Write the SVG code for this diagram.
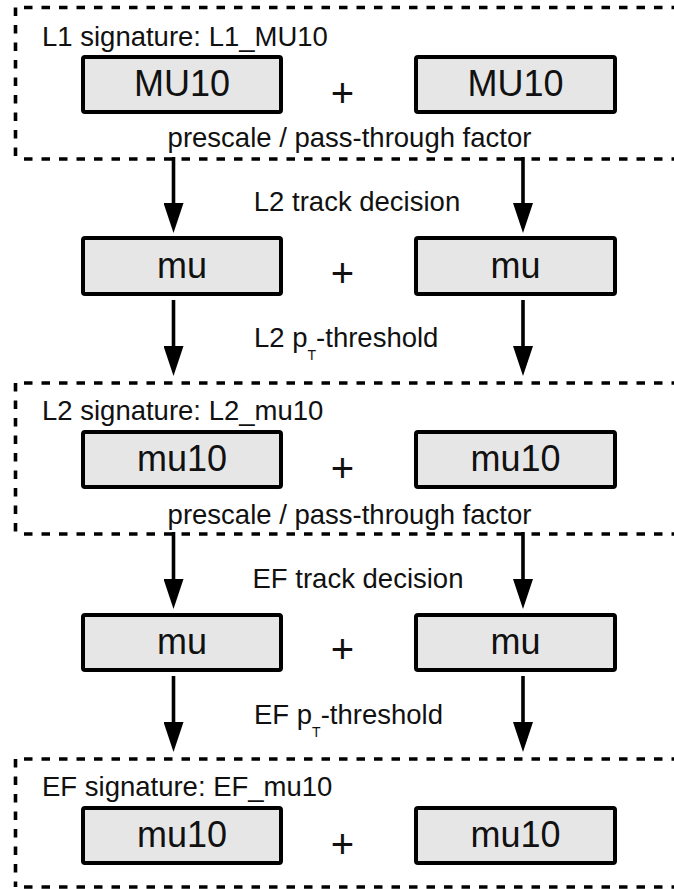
<svg xmlns="http://www.w3.org/2000/svg" width="674" height="889" viewBox="0 0 674 889">
  <style>
    .frame { fill: none; stroke: #000; stroke-width: 3.6; stroke-dasharray: 8.5 9; }
    .box { fill: #e6e6e6; stroke: #000; stroke-width: 4; }
    .lbl { font-family: "Liberation Sans", Arial, sans-serif; font-size: 27.5px; fill: #111; }
    .big { font-family: "Liberation Sans", Arial, sans-serif; font-size: 36px; fill: #111; text-anchor: middle; }
    .plus { font-family: "Liberation Sans", Arial, sans-serif; font-size: 40px; fill: #111; text-anchor: middle; }
    .mid { text-anchor: middle; }
    .arrow { stroke: #000; stroke-width: 3.6; fill: none; marker-end: url(#head); }
  </style>
  <defs>
    <marker id="head" markerUnits="userSpaceOnUse" markerWidth="30" markerHeight="20" refX="2" refY="10" orient="auto">
      <path d="M0,0 L30,10 L0,20 z" fill="#000"/>
    </marker>
  </defs>
  <rect width="674" height="889" fill="#fff"/>

  <!-- Level 1 signature container -->
  <g id="l1-signature">
    <path class="frame" d="M24,7.5 H690 M15.5,7.5 V159 M24,159 H690"/>
    <text class="lbl" x="42" y="45.5">L1 signature: L1_MU10</text>
    <g id="l1-mu10-a">
      <rect class="box" x="83" y="57" width="198" height="55" rx="2"/>
      <text class="big" x="182" y="96">MU10</text>
    </g>
    <text class="plus" x="342.5" y="107">+</text>
    <g id="l1-mu10-b">
      <rect class="box" x="416" y="57" width="199" height="55" rx="2"/>
      <text class="big" x="515.5" y="96">MU10</text>
    </g>
    <text class="lbl mid" x="349.5" y="147">prescale / pass-through factor</text>
  </g>

  <!-- L2 track decision step -->
  <text class="lbl mid" x="357" y="211">L2 track decision</text>
  <g id="l2-mu-row">
    <g id="l2-mu-a">
      <rect class="box" x="83" y="238" width="198" height="56" rx="2"/>
      <text class="big" x="182" y="278">mu</text>
    </g>
    <text class="plus" x="342.5" y="287">+</text>
    <g id="l2-mu-b">
      <rect class="box" x="416" y="238" width="199" height="56" rx="2"/>
      <text class="big" x="515.5" y="278">mu</text>
    </g>
  </g>
  <text class="lbl" x="254" y="347">L2 p<tspan font-size="14" dy="13">T</tspan><tspan dy="-13">-threshold</tspan></text>

  <!-- Level 2 signature container -->
  <g id="l2-signature">
    <path class="frame" d="M24,383 H690 M15.5,383 V534 M24,534 H690"/>
    <text class="lbl" x="42" y="419.5">L2 signature: L2_mu10</text>
    <g id="l2-mu10-a">
      <rect class="box" x="83" y="432" width="198" height="55" rx="2"/>
      <text class="big" x="182" y="471">mu10</text>
    </g>
    <text class="plus" x="342.5" y="482">+</text>
    <g id="l2-mu10-b">
      <rect class="box" x="416" y="432" width="199" height="55" rx="2"/>
      <text class="big" x="515.5" y="471">mu10</text>
    </g>
    <text class="lbl mid" x="349.5" y="523.5">prescale / pass-through factor</text>
  </g>

  <!-- EF track decision step -->
  <text class="lbl mid" x="358" y="588">EF track decision</text>
  <g id="ef-mu-row">
    <g id="ef-mu-a">
      <rect class="box" x="83" y="615" width="198" height="55" rx="2"/>
      <text class="big" x="182" y="654">mu</text>
    </g>
    <text class="plus" x="342.5" y="663">+</text>
    <g id="ef-mu-b">
      <rect class="box" x="416" y="615" width="199" height="55" rx="2"/>
      <text class="big" x="515.5" y="654">mu</text>
    </g>
  </g>
  <text class="lbl" x="254" y="724">EF p<tspan font-size="14" dy="13">T</tspan><tspan dy="-13">-threshold</tspan></text>

  <!-- Event filter signature container -->
  <g id="ef-signature">
    <path class="frame" d="M24,759 H690 M15.5,759 V887 M24,887 H690"/>
    <text class="lbl" x="42" y="796">EF signature: EF_mu10</text>
    <g id="ef-mu10-a">
      <rect class="box" x="83" y="808" width="198" height="55" rx="2"/>
      <text class="big" x="182" y="847">mu10</text>
    </g>
    <text class="plus" x="342.5" y="858">+</text>
    <g id="ef-mu10-b">
      <rect class="box" x="416" y="808" width="199" height="55" rx="2"/>
      <text class="big" x="515.5" y="847">mu10</text>
    </g>
  </g>

  <!-- connectors -->
  <g id="connectors">
    <path class="arrow" d="M173.5,157 V205"/>
    <path class="arrow" d="M523,157 V205"/>
    <path class="arrow" d="M173.5,300 V348"/>
    <path class="arrow" d="M523,300 V348"/>
    <path class="arrow" d="M173.5,532 V581"/>
    <path class="arrow" d="M523,532 V581"/>
    <path class="arrow" d="M173.5,676 V724"/>
    <path class="arrow" d="M523,676 V724"/>
  </g>
</svg>
